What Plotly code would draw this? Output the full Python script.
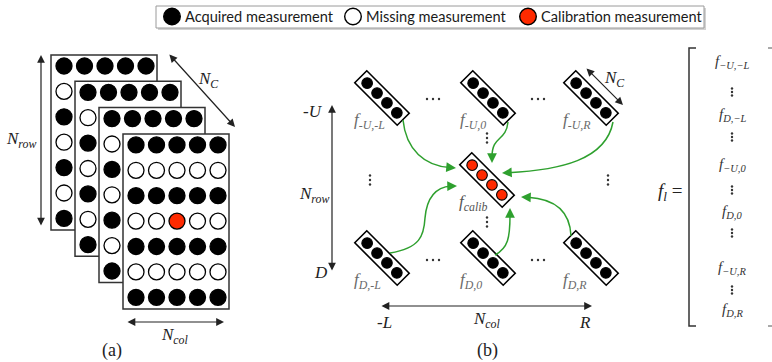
import numpy as np
import plotly.graph_objects as go

W, H = 772, 362

# ---- legend ----
legend_labels = ["Acquired measurement", "Missing measurement", "Calibration measurement"]
legend_kinds = ["acquired", "missing", "calibration"]

# ---- panel (a): stacked coil images, each a 7 x 5 sampling grid ----
n_coils = 4
n_rows = 7
n_cols = 5
row_kinds = ["acquired", "missing", "acquired", "missing", "acquired", "missing", "acquired"]
calib_cell = (3, 2)  # (row, col) in the front coil

# ---- panel (b): kernel neighbourhood ----
kernel_rows = ["-U", "D"]
kernel_cols = ["-L", "0", "R"]
calib_label = "calib"

# ---- stacked kernel vector ----
vector_entries = ["−U,−L", "D,−L", "−U,0", "D,0", "−U,R", "D,R"]

FILL = {"acquired": "black", "missing": "white", "calibration": "#ff2a00"}
GREEN = "rgb(46,160,46)"
INK = "#222222"
SERIF = "Liberation Serif, Times New Roman, serif"

shapes = []
annotations = []


def circle(cx, cy, r, kind, lw=1.3):
    shapes.append(dict(type="circle", xref="x", yref="y",
                       x0=cx - r, x1=cx + r, y0=cy - r, y1=cy + r,
                       fillcolor=FILL[kind], line=dict(color="black", width=lw)))


def rect(x0, y0, x1, y1, line_color="#333", lw=1.5, fill="white"):
    shapes.append(dict(type="rect", xref="x", yref="y", x0=x0, x1=x1, y0=y0, y1=y1,
                       fillcolor=fill, line=dict(color=line_color, width=lw)))


def text(x, y, s, size=16, color=INK, xanchor="center", italic=True, family=SERIF):
    annotations.append(dict(x=x, y=y, xref="x", yref="y",
                            text=f"<i>{s}</i>" if italic else s,
                            showarrow=False, xanchor=xanchor, yanchor="middle",
                            font=dict(family=family, size=size, color=color)))


def arrow(x0, y0, x1, y1, color=INK, width=1.2, both=False, size=1.3):
    annotations.append(dict(x=x1, y=y1, ax=x0, ay=y0, xref="x", yref="y",
                            axref="x", ayref="y", text="", showarrow=True,
                            arrowhead=2, startarrowhead=2,
                            arrowside="end+start" if both else "end",
                            arrowsize=size, startarrowsize=size,
                            arrowwidth=width, arrowcolor=color,
                            standoff=0, startstandoff=0))


# ---------------- legend ----------------
LEG_Y = 16.5
shapes.append(dict(type="rect", xref="x", yref="y", x0=158, x1=706, y0=8, y1=30,
                   fillcolor="#d2d2d2", line=dict(width=0)))
rect(156, 6, 704, 28, line_color="#9a9a9a", lw=1)
legend_x = [172, 353, 528]
for lx, lab, kind in zip(legend_x, legend_labels, legend_kinds):
    circle(lx, LEG_Y, 8.3, kind, lw=1.4)
    text(lx + 11, LEG_Y, lab, size=14.6, color="#1a1a1a", xanchor="left",
         italic=False, family="Lato")

# ---------------- panel (a) ----------------
FX0, FY0, FDX, FDY = 51, 55, 24, 26.3
FW, FH = 106, 175
CX0, CY0, CDX, CDY = 13, 11, 20.5, 25.4
for k in range(n_coils):
    fx, fy = FX0 + k * FDX, FY0 + k * FDY
    rect(fx, fy, fx + FW, fy + FH)
    for i in range(n_rows):
        for j in range(n_cols):
            kind = row_kinds[i]
            if k == n_coils - 1 and (i, j) == calib_cell:
                kind = "calibration"
            circle(fx + CX0 + j * CDX, fy + CY0 + i * CDY, 8.0, kind)

arrow(41, 227, 41, 55, both=True)
text(21, 140, "N<sub>row</sub>", size=17)
arrow(168, 53, 235, 127, both=True)
text(208, 80, "N<sub>C</sub>", size=17)
arrow(126, 322, 224, 322, both=True)
text(175, 336, "N<sub>col</sub>", size=17)
text(112, 350, "(a)", size=18, italic=False)

# ---------------- panel (b) ----------------
KX = [382, 488, 591]
KY = [98, 258]
CALIB = (487, 180)
HALF_L, HALF_W = 30, 8.5
OFFS = [-21, -7, 7, 21]
u = np.array([1, 1]) / np.sqrt(2)
v = np.array([-1, 1]) / np.sqrt(2)


def kernel(cx, cy, kind):
    c = np.array([cx, cy])
    pts = [c - HALF_L * u - HALF_W * v, c - HALF_L * u + HALF_W * v,
           c + HALF_L * u + HALF_W * v, c + HALF_L * u - HALF_W * v]
    path = "M " + " L ".join(f"{p[0]:.2f},{p[1]:.2f}" for p in pts) + " Z"
    shapes.append(dict(type="path", xref="x", yref="y", path=path,
                       fillcolor="white", line=dict(color="black", width=1.6)))
    for o in OFFS:
        p = c + o * u
        circle(p[0], p[1], 5.3, kind, lw=1.1)


for ry, rlab in zip(KY, kernel_rows):
    for cx, clab in zip(KX, kernel_cols):
        kernel(cx, ry, "acquired")
        text(cx - 30, ry + 23, f"f<sub>{rlab},{clab}</sub>", size=17,
             color="#6a6a6a", xanchor="left")
kernel(CALIB[0], CALIB[1], "calibration")
text(CALIB[0] - 30, CALIB[1] + 23, f"f<sub>{calib_label}</sub>", size=17,
     color="#555555", xanchor="left")


def curve(path, tip, back):
    shapes.append(dict(type="path", xref="x", yref="y", path=path,
                       line=dict(color=GREEN, width=1.5)))
    arrow(back[0], back[1], tip[0], tip[1], color=GREEN, width=1.5, size=1.3)


curve("M 403,120 C 406,150 425,166 450,167.5", (456, 168), (449, 167.4))
curve("M 508,122 C 506,142 492,135 492,157", (492, 163), (492, 156))
curve("M 613,122 C 606,160 560,170 508,172.7", (502, 173), (509, 172.6))
curve("M 390,253 C 420,248 424,236 425,218 C 427,195 438,187 451,186",
      (457, 186), (450, 186.1))
curve("M 495,255 C 508,248 510,238 510,215", (510, 208), (510, 215))
curve("M 571,236 C 570,212 556,199 528,197.3", (521, 197), (528, 197.3))

# dots between kernels
hx, hy, vx, vy = [], [], [], []
for x0, y0 in [(433, 99), (538, 99), (433, 260), (538, 260)]:
    for d in (-6, 0, 6):
        hx.append(x0 + d)
        hy.append(y0)
for x0, y0 in [(370, 180), (487, 138), (608, 180), (487, 222)]:
    for d in (-4.5, 0, 4.5):
        vx.append(x0)
        vy.append(y0 + d)

arrow(332, 272, 332, 105, both=True)
text(313, 111, "-U", size=17)
text(314, 195, "N<sub>row</sub>", size=17)
text(321, 272, "D", size=17)
arrow(380, 306, 592, 306, both=True)
text(384, 322, "-L", size=17)
text(487, 320, "N<sub>col</sub>", size=17)
text(585, 322, "R", size=17)
arrow(585, 67, 623, 105, both=True)
text(614, 79, "N<sub>C</sub>", size=17)
text(487, 350, "(b)", size=18, italic=False)

# ---------------- stacked vector ----------------
shapes.append(dict(type="path", xref="x", yref="y",
                   path="M 696,48 L 689,48 L 689,326 L 696,326",
                   line=dict(color="#333", width=1.5)))
shapes.append(dict(type="path", xref="x", yref="y",
                   path="M 768,48 L 772,48 M 768,326 L 772,326",
                   line=dict(color="#555", width=1)))
text(670, 192, "f<sub>l</sub> <span style='font-style:normal'>=</span>", size=19)
entry_y = [62, 115, 165, 212, 268, 310]
for ey, lab in zip(entry_y, vector_entries):
    text(732, ey, f"f<sub>{lab}</sub>", size=15, color="#333")
for y0 in [92, 137, 190, 233, 290]:
    for d in (-3.5, 0, 3.5):
        vx.append(732)
        vy.append(y0 + d)

fig = go.Figure()
fig.add_trace(go.Scatter(x=hx, y=hy, mode="markers", hoverinfo="skip",
                         marker=dict(size=2.4, color="#333")))
fig.add_trace(go.Scatter(x=vx, y=vy, mode="markers", hoverinfo="skip",
                         marker=dict(size=2.4, color="#333")))

fig.update_layout(
    width=W, height=H, margin=dict(l=0, r=0, t=0, b=0),
    paper_bgcolor="white", plot_bgcolor="white", showlegend=False,
    xaxis=dict(range=[0, W], visible=False, fixedrange=True),
    yaxis=dict(range=[H, 0], visible=False, fixedrange=True),
    shapes=shapes, annotations=annotations,
)
fig.write_html("out.html")
